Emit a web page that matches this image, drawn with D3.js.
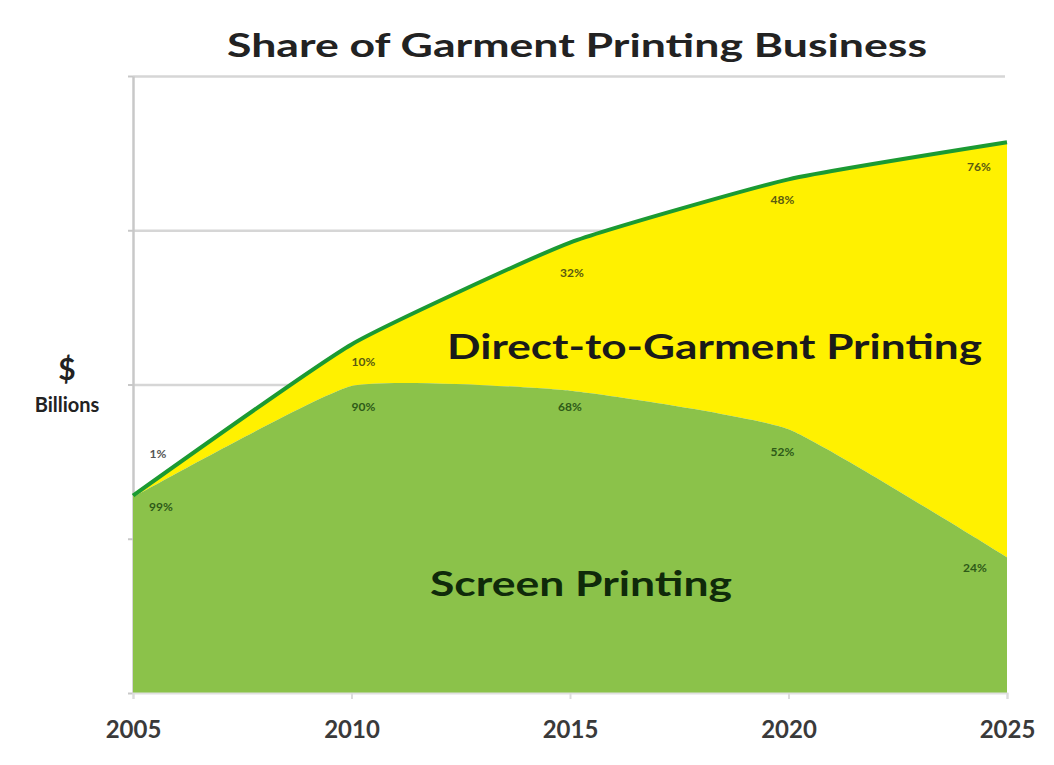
<!DOCTYPE html>
<html><head><meta charset="utf-8">
<script src="https://cdn.jsdelivr.net/npm/d3@7"></script>
<style>body{margin:0;background:#fff}svg{display:block}</style>
</head><body>
<svg id="c" width="1054" height="765"></svg>
<script>
const years = [2005, 2010, 2015, 2020, 2025];
const screenValues = [1.27, 1.99, 1.96, 1.71, 0.88];
const dtgValues = [0.01, 0.27, 0.96, 1.62, 2.69];
const screenPct = ["99%", "90%", "68%", "52%", "24%"];
const dtgPct = ["1%", "10%", "32%", "48%", "76%"];
const yTicks = [0, 1, 2, 3, 4];
const title = "Share of Garment Printing Business";

const svg = d3.select("#c");
const font = "Lato, 'Open Sans', sans-serif";
const x = d3.scaleLinear().domain([2005, 2025]).range([133, 1007]);
const y = d3.scaleLinear().domain([0, 4]).range([693, 76]);

const data = years.map((yr, i) => ({yr, s: screenValues[i], t: screenValues[i] + dtgValues[i]}));
const curve = d3.curveCardinal.tension(0.55);

// gridlines
const grid = svg.append("g").attr("transform", `translate(${x(2005)},0)`)
  .call(d3.axisLeft(y).tickValues(yTicks.slice(1)).tickSize(-(x(2025) - x(2005) - 2)).tickFormat(""));
grid.select(".domain").remove();
grid.selectAll("line").attr("stroke", "#d6d6d6").attr("stroke-width", 2.5);

// left axis ticks + line
const la = svg.append("g").attr("transform", `translate(${x(2005)},0)`)
  .call(d3.axisLeft(y).tickValues(yTicks).tickSize(5).tickSizeOuter(0).tickFormat(""));
la.select(".domain").attr("stroke", "#c8c8c8").attr("stroke-width", 2.5);
la.selectAll("line").attr("stroke", "#c8c8c8").attr("stroke-width", 2);

// areas
svg.append("path").datum(data)
  .attr("d", d3.area().x(d => x(d.yr)).y0(d => y(d.s)).y1(d => y(d.t)).curve(curve))
  .attr("fill", "#fff100");
svg.append("path").datum(data)
  .attr("d", d3.area().x(d => x(d.yr)).y0(y(0)).y1(d => y(d.s)).curve(curve))
  .attr("fill", "#8bc24a");
svg.append("path").datum(data)
  .attr("d", d3.line().x(d => x(d.yr)).y(d => y(d.t)).curve(curve))
  .attr("fill", "none").attr("stroke", "#1b9a32").attr("stroke-width", 4);

// bottom axis
const ba = svg.append("g").attr("transform", `translate(0,${y(0)})`)
  .call(d3.axisBottom(x).tickValues(years).tickFormat(d3.format("d")).tickSize(6).tickPadding(22));
ba.select(".domain").attr("stroke", "#e0e0e0").attr("stroke-width", 2);
ba.selectAll("line").attr("stroke", "#dcdcdc").attr("stroke-width", 2);
ba.selectAll("text").attr("font-family", font).attr("font-weight", "bold")
  .attr("font-size", 24).attr("fill", "#3a3a3a");

// percent labels
const pctOffsetsD = [[25, -38], [12, 22], [2, 34], [-6, 25], [-28, 29]];
const pctOffsetsS = [[28, 14], [12, 25], [0, 20], [-6, 27], [-32, 15]];
svg.append("g").selectAll("text").data(data).join("text")
  .attr("x", (d, i) => x(d.yr) + pctOffsetsD[i][0])
  .attr("y", (d, i) => y(d.t) + pctOffsetsD[i][1])
  .attr("text-anchor", "middle").attr("font-family", font).attr("font-weight", "bold")
  .attr("font-size", 12).attr("fill", (d, i) => i === 0 ? "#555" : "#5a5a10")
  .text((d, i) => dtgPct[i]);
svg.append("g").selectAll("text").data(data).join("text")
  .attr("x", (d, i) => x(d.yr) + pctOffsetsS[i][0])
  .attr("y", (d, i) => y(d.s) + pctOffsetsS[i][1])
  .attr("text-anchor", "middle").attr("font-family", font).attr("font-weight", "bold")
  .attr("font-size", 12).attr("fill", "#2e5a18")
  .text((d, i) => screenPct[i]);

// series labels
svg.append("text").attr("x", 447).attr("y", 359).attr("font-family", font)
  .attr("font-weight", "bold").attr("font-size", 35).attr("fill", "#1a1a1a")
  .attr("textLength", 535).attr("lengthAdjust", "spacingAndGlyphs")
  .text("Direct-to-Garment Printing");
svg.append("text").attr("x", 430).attr("y", 596).attr("font-family", font)
  .attr("font-weight", "bold").attr("font-size", 35).attr("fill", "#0f2a0a")
  .attr("textLength", 302).attr("lengthAdjust", "spacingAndGlyphs")
  .text("Screen Printing");

// title
svg.append("text").attr("x", 577).attr("y", 57).attr("text-anchor", "middle")
  .attr("font-family", font).attr("font-weight", "bold").attr("font-size", 33)
  .attr("fill", "#222").attr("textLength", 700).attr("lengthAdjust", "spacingAndGlyphs")
  .text(title);

// y-axis label
svg.append("text").attr("x", 67).attr("y", 380).attr("text-anchor", "middle")
  .attr("font-family", font).attr("font-weight", "bold").attr("font-size", 30)
  .attr("fill", "#222").text("$");
svg.append("text").attr("x", 67).attr("y", 412).attr("text-anchor", "middle")
  .attr("font-family", font).attr("font-weight", "bold").attr("font-size", 20)
  .attr("fill", "#222").text("Billions");
</script>
</body></html>
